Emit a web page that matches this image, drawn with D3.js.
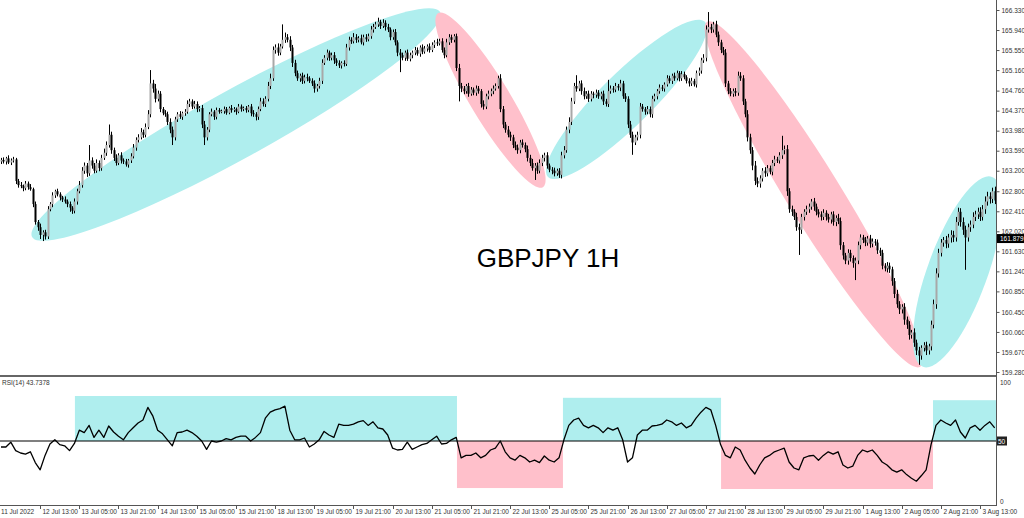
<!DOCTYPE html>
<html><head><meta charset="utf-8">
<script src="https://cdn.jsdelivr.net/npm/d3@7"></script>
<style>
html,body{margin:0;padding:0;background:#fff;}
svg{display:block;font-family:"Liberation Sans",Arial,sans-serif;}
</style></head><body>
<svg id="c" width="1024" height="518"></svg>
<script>
// ---- DATA ----
const firstOpen = 163.38;
const closes = [
163.41,163.38,163.44,163.36,163.40,163.42,163.00,162.92,162.90,162.86,
162.95,162.88,162.84,162.55,162.20,162.10,161.95,162.00,161.92,162.45,
162.55,162.72,162.80,162.74,162.68,162.64,162.60,162.55,162.48,162.42,
162.60,162.80,162.92,163.20,163.30,163.15,163.40,163.30,163.20,163.35,
163.25,163.45,163.55,163.70,163.90,163.60,163.45,163.35,163.50,163.40,
163.38,163.32,163.40,163.48,163.65,163.80,163.85,163.95,163.90,164.05,
164.30,164.90,164.80,164.60,164.70,164.40,164.32,164.30,164.15,164.00,
163.85,164.20,164.30,164.25,164.32,164.35,164.50,164.55,164.45,164.50,
164.40,164.42,164.10,163.85,164.00,164.30,164.35,164.25,164.38,164.35,
164.36,164.40,164.33,164.42,164.38,164.40,164.35,164.45,164.40,164.42,
164.38,164.45,164.32,164.30,164.25,164.40,164.55,164.50,164.60,164.85,
165.00,165.55,165.60,165.50,165.62,165.75,165.80,165.75,165.60,165.30,
165.10,165.00,165.05,164.95,165.02,165.00,164.95,164.90,164.80,164.85,
164.95,165.30,165.40,165.50,165.40,165.45,165.35,165.30,165.25,165.30,
165.28,165.60,165.75,165.72,165.80,165.75,165.78,165.70,165.80,165.76,
165.82,165.95,166.00,166.05,166.10,166.02,166.08,166.00,165.95,165.80,
165.90,165.70,165.50,165.45,165.40,165.50,165.38,165.45,165.50,165.55,
165.48,165.60,165.52,165.58,165.62,165.55,165.65,165.70,165.68,165.72,
165.55,165.45,165.70,165.80,165.75,165.82,165.20,164.85,164.80,164.75,
164.85,164.70,164.78,164.72,164.80,164.75,164.50,164.45,164.65,164.70,
164.75,164.80,164.85,165.00,164.40,164.10,164.00,163.90,163.85,163.70,
163.65,163.60,163.75,163.70,163.62,163.45,163.35,163.25,163.30,163.20,
163.35,163.45,163.50,163.30,163.22,163.20,163.15,163.20,163.12,163.50,
163.60,164.00,164.15,164.55,164.85,164.80,164.90,164.75,164.65,164.70,
164.60,164.70,164.68,164.72,164.65,164.70,164.55,164.50,164.75,164.80,
164.78,164.85,164.82,164.90,164.65,164.60,164.10,163.90,163.75,163.85,
163.90,164.45,164.40,164.35,164.40,164.30,164.60,164.65,164.75,164.82,
164.80,164.88,165.00,164.95,165.05,165.00,165.10,165.00,165.08,165.02,
164.95,164.90,164.95,164.88,165.10,165.15,165.35,165.40,165.95,166.00,
165.95,166.05,165.85,165.70,165.55,165.50,164.90,164.75,164.70,164.75,
164.72,165.05,165.00,164.55,164.30,163.85,163.60,163.30,163.00,162.95,
163.05,163.20,163.15,163.25,163.18,163.35,163.42,163.40,163.50,163.60,
163.62,162.80,162.45,162.40,162.30,162.10,162.05,162.30,162.40,162.45,
162.50,162.60,162.50,162.40,162.35,162.30,162.38,162.30,162.25,162.35,
162.20,162.28,162.22,161.75,161.55,161.45,161.60,161.50,161.40,161.45,
161.75,161.90,161.85,161.80,161.88,161.78,161.82,161.80,161.65,161.60,
161.35,161.30,161.35,161.28,161.05,160.80,160.60,160.50,160.55,160.30,
160.20,160.00,160.05,159.85,159.70,159.60,159.75,159.80,159.70,159.78,
160.20,160.60,161.20,161.60,161.80,161.85,161.78,161.90,161.95,161.90,
162.20,162.40,162.20,162.05,161.90,162.10,162.15,162.30,162.35,162.40,
162.30,162.45,162.60,162.70,162.65,162.80,162.62
];
// upper / lower wicks beyond the body, in 0.01 JPY
const upWick = [
4,5,3,6,4,5,3,4,6,3, 5,4,6,3,5,4,7,4,5,6, 4,6,3,5,4,3,6,4,5,3, 6,5,8,7,6,5,30,6,5,7,
5,6,8,7,20,6,5,7,4,6, 4,5,3,6,7,5,6,8,5,7, 8,26,7,9,6,5,4,6,5,7, 6,5,4,6,3,5,7,5,4,6,
5,4,6,7,5,4,6,3,5,4, 3,5,4,3,6,4,3,5,4,3, 4,3,5,6,4,5,7,6,5,8, 9,7,6,8,5,30,9,6,7,5,
6,5,4,6,5,7,4,5,6,4, 6,7,5,6,4,5,6,4,5,3, 5,7,6,5,8,6,4,7,5,6, 5,7,6,5,8,4,7,5,6,4,
5,6,4,7,5,4,6,5,4,6, 5,4,6,5,4,6,5,4,7,5, 6,5,7,6,5,4,5,8,6,5, 4,6,5,4,6,5,4,7,5,6,
5,6,5,5,8,6,5,7,6,5, 7,6,5,6,5,7,6,8,5,6, 7,6,5,6,4,5,6,4,5,7, 8,6,9,7,6,21,5,6,7,5,
6,5,4,6,5,4,6,5,22,6, 5,6,4,7,5,6,5,7,6,5, 6,7,5,4,6,5,6,5,4,6, 5,4,6,5,4,6,5,4,6,5,
4,5,6,4,5,6,5,7,8,29, 6,5,7,6,5,6,7,5,6,5, 6,8,7,6,5,8,7,6,9,7, 6,5,7,6,5,6,7,5,6,28,
7,8,6,7,5,8,7,6,5,7, 6,5,7,6,5,6,7,5,6,5, 6,5,8,7,6,5,7,6,5,6, 7,6,5,6,5,7,6,5,6,5,
6,5,7,6,5,6,8,6,5,7, 6,7,5,8,6,7,5,6,7,5, 8,9,10,8,7,6,8,7,9,8, 10,8,7,9,8,7,8,9,7,8,
9,8,10,9,8,7,9
];
const dnWick = [
5,4,6,3,5,4,6,5,4,6, 4,5,3,6,5,7,8,12,6,5, 4,6,5,4,6,5,4,6,8,6, 5,6,4,5,6,7,5,6,5,4,
6,5,4,6,5,7,6,5,4,6, 5,4,6,5,4,6,5,4,6,5, 4,6,8,7,5,6,4,5,6,7, 15,6,5,4,6,5,4,6,5,4,
6,5,7,15,6,5,4,6,5,4, 3,5,4,3,5,4,6,3,5,4, 5,4,6,5,7,6,4,5,6,5, 6,5,7,6,5,4,6,5,7,8,
6,5,7,6,5,6,4,5,8,6, 5,6,4,5,6,5,7,6,5,6, 5,4,6,5,4,6,5,4,6,5, 4,5,6,4,5,6,4,7,5,6,
5,6,7,33,5,6,4,5,6,5, 4,6,5,4,6,5,4,6,5,4, 5,6,4,5,6,5,6,30,7,6, 5,6,4,5,6,5,7,6,5,6,
5,6,4,5,6,7,6,5,7,6, 5,7,6,5,6,7,6,5,23,6, 5,6,7,6,5,7,6,5,6,7, 6,5,7,6,5,6,5,7,6,5,
6,5,7,6,5,6,7,5,6,5, 6,5,6,7,5,6,7,6,24,5, 6,7,5,6,5,6,7,5,6,5, 5,6,4,5,6,5,4,6,5,4,
5,6,5,4,6,5,6,5,7,6, 7,6,5,7,6,5,7,6,5,6, 7,6,5,7,6,8,7,9,8,7, 8,6,7,6,5,7,6,5,6,7,
8,9,7,8,6,7,49,8,7,6, 7,6,8,7,6,7,6,7,6,8, 7,8,6,9,8,7,8,7,9,33, 7,8,6,7,6,8,7,6,7,6,
7,6,8,7,9,8,7,9,8,10, 8,9,7,8,9,18,8,7,9,8, 8,7,9,8,7,8,9,8,10,9, 8,7,9,10,63,8,9,7,8,9,
8,7,9,8,9,8,7
];
// RSI(14) read at every second bar (bar index = 2*k)
const rsiValues = [
45,45,49,42,40,39,41,32,26,38, 47.5,51,47,46,42,48,59,57,63,53,
59,53,62.5,57.5,54,51,57,61,65,67.5, 78,71,59,56,51,46,57,57.5,59,57,
54,50,43,50,49,50,52,51,53,54, 54,50,53,57,69,74,76,77,79,59,
51,51,52.5,45,47.5,51,58,55,53,64, 63,63,64,66,67,63,66,61,60,55,
44,42.5,43,49,43,45,47,48,51,54, 47.5,48,51,53,36,38,38,40,36,38,
42.5,44,50,41,36,34,38,36,32.5,34, 32,37.5,34,32.5,36,51,63,67.5,69,63,
61,63,61,57,61,59,61,51,32.5,36, 55,59,59,62.5,63,64,67.5,66,63,65,
61,63,69,74,78,76,63,47,38,36, 45,42.5,34,27.5,22.5,30,36,38,41,42.5,
44,32.5,27.5,26,36,37.5,38,34,38,41, 39,41,30,27.5,29,38,42.5,41,42.5,38,
32.5,30,26,24,26,22,19,16.5,21,26, 47,63,67.5,65,63,67.5,57.5,52.5,61,63,
59,63,66,61
];
const priceTicks = [166.330,165.940,165.550,165.160,164.760,164.370,163.980,163.590,163.200,
  162.800,162.410,162.020,161.630,161.240,160.850,160.450,160.060,159.670,159.280];
const timeLabels = ["11 Jul 2022","12 Jul 13:00","13 Jul 05:00","13 Jul 21:00","14 Jul 13:00",
  "15 Jul 05:00","15 Jul 21:00","18 Jul 13:00","19 Jul 05:00","19 Jul 21:00","20 Jul 13:00",
  "21 Jul 05:00","21 Jul 21:00","22 Jul 13:00","25 Jul 05:00","25 Jul 21:00","26 Jul 13:00",
  "27 Jul 05:00","27 Jul 21:00","28 Jul 13:00","29 Jul 05:00","29 Jul 21:00","1 Aug 13:00",
  "2 Aug 05:00","2 Aug 21:00","3 Aug 13:00"];
const labelEvery = 16; // bars between time labels
const currentPrice = 161.879;
const rsiLabel = "RSI(14) 43.7378";
const rsiLevel = 50;
const title = "GBPJPY 1H";
// trend zones on price: [bar0, price0, bar1, price1, kind]
const zoneStart = [[12.7,161.91],[178.6,166.27],[223.5,163.08],[288.5,166.10],[376.7,159.38]];
const zoneEnd   = [[179.4,166.29],[221.4,162.88],[287.6,166.10],[375.5,159.38],[404.9,163.08]];
const zoneKind  = ["up","down","up","down","up"];
const zoneHalfWidth = [34,20,26,27,30];
// RSI boxes: [bar from, bar to, rsi from, rsi to]
const rsiBoxes = [[30.2,186.3,50,87.5,"up"],[186.3,229.6,10.8,50,"down"],[229.6,294.2,50,86,"up"],
  [294.2,380.8,10,50,"down"],[380.8,407,50,84,"up"]];

// ---- DRAW ----
const svg = d3.select("#c");
const plotR = 996, priceBottom = 375, rsiTop = 378, axisY = 505;
const x = d3.scaleLinear().domain([0, 400]).range([1, 980]);
const yP = d3.scaleLinear().domain([159.28, 166.33]).range([372, 10]);
const yR = d3.scaleLinear().domain([0, 100]).range([501, 381]);
const colors = {up:"#afeeee", down:"#ffc0cb"};

const defs = svg.append("defs");
defs.append("clipPath").attr("id","cp").append("rect").attr("x",0).attr("y",0).attr("width",plotR).attr("height",priceBottom);
defs.append("clipPath").attr("id","cr").append("rect").attr("x",0).attr("y",rsiTop).attr("width",plotR).attr("height",axisY-rsiTop);

// zones
const gz = svg.append("g").attr("clip-path","url(#cp)");
zoneStart.forEach((s,k)=>{
  const e = zoneEnd[k];
  const x0=x(s[0]), y0=yP(s[1]), x1=x(e[0]), y1=yP(e[1]);
  const cx=(x0+x1)/2, cy=(y0+y1)/2, rx=Math.hypot(x1-x0,y1-y0)/2;
  const ang=Math.atan2(y1-y0,x1-x0)*180/Math.PI;
  gz.append("ellipse").attr("cx",0).attr("cy",0).attr("rx",rx).attr("ry",zoneHalfWidth[k])
    .attr("transform",`translate(${cx},${cy}) rotate(${ang})`).attr("fill",colors[zoneKind[k]]);
});

// candles
const bars = closes.map((c,i)=>{
  const o = i===0 ? firstOpen : closes[i-1];
  return {i,o,c,h:Math.max(o,c)+upWick[i]/100,l:Math.min(o,c)-dnWick[i]/100};
});
const gc = svg.append("g").attr("clip-path","url(#cp)");
gc.selectAll("line").data(bars).join("line")
  .attr("x1",d=>Math.round(x(d.i))+0.5).attr("x2",d=>Math.round(x(d.i))+0.5)
  .attr("y1",d=>yP(d.h)).attr("y2",d=>yP(d.l)).attr("stroke","#000").attr("stroke-width",1);
gc.selectAll("rect").data(bars).join("rect")
  .attr("x",d=>Math.round(x(d.i))-0.5).attr("width",2)
  .attr("y",d=>yP(Math.max(d.o,d.c)))
  .attr("height",d=>Math.max(1,Math.abs(yP(d.o)-yP(d.c))))
  .attr("fill",d=>d.c>=d.o?"#a8a8a8":"#000");

// title
svg.append("text").attr("x",548).attr("y",267).attr("text-anchor","middle")
  .attr("font-size",26).attr("fill","#000").text(title);

// RSI boxes
const gr = svg.append("g").attr("clip-path","url(#cr)");
rsiBoxes.forEach(b=>{
  gr.append("rect").attr("x",x(b[0])).attr("width",x(b[1])-x(b[0]))
    .attr("y",yR(b[3])).attr("height",yR(b[2])-yR(b[3])).attr("fill",colors[b[4]]);
});
gr.append("line").attr("x1",0).attr("x2",plotR).attr("y1",yR(rsiLevel)).attr("y2",yR(rsiLevel))
  .attr("stroke","#000").attr("stroke-width",1.2);
gr.append("path").datum(rsiValues)
  .attr("d",d3.line().x((v,k)=>x(2*k)).y(v=>yR(v)))
  .attr("fill","none").attr("stroke","#000").attr("stroke-width",1.3).attr("stroke-linejoin","round");

// frame
svg.append("line").attr("x1",0).attr("x2",plotR).attr("y1",376).attr("y2",376).attr("stroke","#666").attr("stroke-width",2);
svg.append("line").attr("x1",plotR+0.5).attr("x2",plotR+0.5).attr("y1",0).attr("y2",axisY).attr("stroke","#555");
svg.append("line").attr("x1",0).attr("x2",plotR+1).attr("y1",axisY+0.5).attr("y2",axisY+0.5).attr("stroke","#555");

// price axis
const pa = svg.append("g").attr("transform",`translate(${plotR+0.5},0)`)
  .call(d3.axisRight(yP).tickValues(priceTicks).tickFormat(d3.format(".3f")).tickSize(3).tickPadding(2));
pa.select(".domain").remove();
pa.selectAll("text").attr("font-size",6.5).attr("font-family","Liberation Sans, Arial").attr("fill","#333");
pa.selectAll("line").attr("stroke","#555");

// current price tag
svg.append("rect").attr("x",plotR+1).attr("y",yP(currentPrice)-4.5).attr("width",27).attr("height",9).attr("fill","#000");
svg.append("text").attr("x",plotR+4).attr("y",yP(currentPrice)+2.3).attr("font-size",6.5).attr("fill","#fff").text(currentPrice.toFixed(3));

// rsi axis labels
svg.append("text").attr("x",plotR+4).attr("y",yR(100)+3.5).attr("font-size",6.5).attr("fill","#333").text("100");
svg.append("text").attr("x",plotR+4).attr("y",yR(0)+3).attr("font-size",6.5).attr("fill","#333").text("0");
svg.append("rect").attr("x",plotR+1).attr("y",yR(rsiLevel)-4.5).attr("width",10).attr("height",9).attr("fill","#222");
svg.append("text").attr("x",plotR+2).attr("y",yR(rsiLevel)+2.5).attr("font-size",6.5).attr("fill","#fff").text(String(rsiLevel));
svg.append("text").attr("x",2).attr("y",385).attr("font-size",6.5).attr("fill","#333").text(rsiLabel);

// time axis
const gt = svg.append("g");
timeLabels.forEach((t,k)=>{
  const xi = Math.round(x(k*labelEvery))+0.5;
  if(k>0) gt.append("line").attr("x1",xi).attr("x2",xi).attr("y1",axisY).attr("y2",axisY+4).attr("stroke","#555");
  gt.append("text").attr("x",k===0?1:xi+2).attr("y",514).attr("font-size",6.5).attr("fill","#333").text(t);
});
</script>
</body></html>
